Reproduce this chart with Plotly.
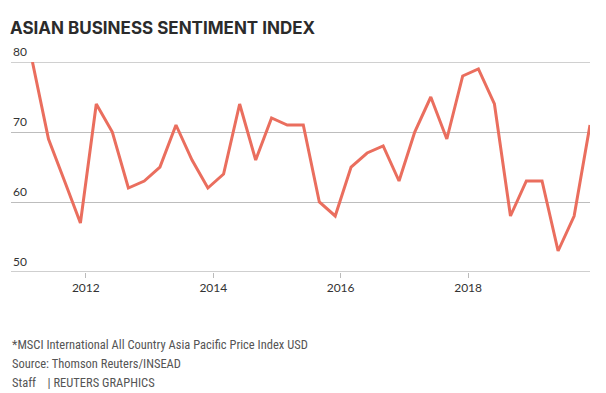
import plotly.graph_objects as go

dates = [f"{y}-{m:02d}-01" for y in range(2011, 2020) for m in (3, 6, 9, 12)]
values = [80, 69, 63, 57,
          74, 70, 62, 63,
          65, 71, 66, 62,
          64, 74, 66, 72,
          71, 71, 60, 58,
          65, 67, 68, 63,
          70, 75, 69, 78,
          79, 74, 58, 63,
          63, 53, 58, 71]
y_ticks = [50, 60, 70, 80]
x_ticks = ["2012-01-01", "2014-01-01", "2016-01-01", "2018-01-01"]
x_tick_labels = ["2012", "2014", "2016", "2018"]

OFF = 8  # page body margin
W, H = 606 - OFF, 393 - OFF
L, T = 11 - OFF, 62 - OFF
R, B = 16, 121
pw, ph = W - L - R, H - T - B

def px(x):
    return (x - OFF - L) / pw

def py(y):
    return (H - B - (y - OFF)) / ph

fig = go.Figure()
fig.add_trace(go.Scatter(x=dates, y=values, mode="lines",
                         line=dict(color="#EA6E5E", width=3),
                         cliponaxis=False,
                         hoverinfo="skip", showlegend=False))

fig.update_layout(
    width=W, height=H,
    margin=dict(l=L, r=R, t=T, b=B),
    paper_bgcolor="white", plot_bgcolor="white",
    font=dict(family="Lato, Open Sans, sans-serif", color="#333"),
    title=dict(text="<b>ASIAN BUSINESS SENTIMENT INDEX</b>",
               x=(10 - OFF) / W, xanchor="left", xref="container",
               y=1 - (28 - OFF) / H, yanchor="middle", yref="container",
               font=dict(family="Inter, Lato, sans-serif", size=17, color="#2b2b2b")),
    xaxis=dict(type="date", range=["2010-10-29", "2019-12-01"],
               tickvals=x_ticks, ticktext=x_tick_labels,
               showgrid=False, zeroline=False,
               showline=False,
               ticks="outside", ticklen=5, tickcolor="#bbb", tickwidth=1,
               tickfont=dict(size=12, color="#333")),
    yaxis=dict(range=[50, 80], tickvals=y_ticks,
               showgrid=True, gridcolor="#bdbdbd", gridwidth=1,
               zeroline=False, showline=False,
               showticklabels=False),
)

# y tick labels above the gridlines
for v in y_ticks:
    fig.add_annotation(text=str(v), xref="paper", yref="y",
                       x=px(11), y=v, xanchor="left", yanchor="bottom",
                       yshift=1, showarrow=False,
                       font=dict(family="Lato, Open Sans, sans-serif", size=12, color="#333"))

# bottom axis line and top line
fig.add_shape(type="line", xref="paper", yref="y", x0=0, x1=1, y0=50, y1=50,
              line=dict(color="#cfcfcf", width=2), layer="below")
fig.add_shape(type="line", xref="paper", yref="y", x0=0, x1=1, y0=80, y1=80,
              line=dict(color="#d0d0d0", width=2), layer="below")

foot = ["*MSCI International All Country Asia Pacific Price Index USD",
        "Source: Thomson Reuters/INSEAD",
        "Staff    | REUTERS GRAPHICS"]
foot_y = [344, 363, 382]
for t, yy in zip(foot, foot_y):
    fig.add_annotation(text=t, xref="paper", yref="paper",
                       x=px(10), y=py(yy), xanchor="left", yanchor="middle",
                       showarrow=False,
                       font=dict(family="Liberation Sans Narrow, Roboto Condensed, Roboto, sans-serif",
                                 size=12.5, color="#555"))

fig.write_html("out.html")
